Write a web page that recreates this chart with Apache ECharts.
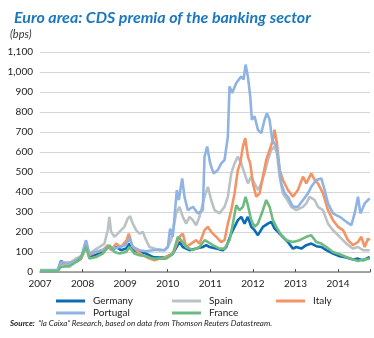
<!DOCTYPE html>
<html><head><meta charset="utf-8">
<script src="https://cdn.jsdelivr.net/npm/echarts@6/dist/echarts.min.js"></script>
<style>html,body{margin:0;padding:0;background:#fff}#c{width:374px;height:338px}</style>
</head><body><div id="c"></div>
<script>
const yearTicks = [2007, 2008, 2009, 2010, 2011, 2012, 2013, 2014];
const seriesNames = ['Germany', 'Spain', 'Italy', 'Portugal', 'France'];

const germany = [[2007.0,8],[2007.415,8],[2007.494,55],[2007.572,42],[2007.690,33],[2007.768,55],[2007.846,50],[2007.964,67],[2008.081,134],[2008.160,75],[2008.277,84],[2008.395,92],[2008.513,109],[2008.630,125],[2008.708,109],[2008.787,125],[2008.904,109],[2009.022,117],[2009.100,142],[2009.179,109],[2009.335,100],[2009.492,92],[2009.649,75],[2009.806,72],[2009.962,75],[2010.119,92],[2010.276,150],[2010.354,125],[2010.511,109],[2010.668,117],[2010.824,125],[2010.903,134],[2010.981,125],[2011.138,117],[2011.295,109],[2011.373,125],[2011.491,192],[2011.569,226],[2011.647,259],[2011.726,276],[2011.804,242],[2011.882,276],[2011.961,226],[2012.039,209],[2012.118,184],[2012.235,226],[2012.353,242],[2012.431,251],[2012.509,217],[2012.588,201],[2012.705,175],[2012.823,150],[2012.940,117],[2013.019,125],[2013.136,117],[2013.254,134],[2013.371,142],[2013.489,129],[2013.607,125],[2013.724,109],[2013.881,92],[2014.038,79],[2014.194,72],[2014.351,62],[2014.469,67],[2014.586,58],[2014.743,75]];

const spain = [[2007.0,8],[2007.415,8],[2007.494,42],[2007.690,42],[2007.846,67],[2008.003,84],[2008.081,125],[2008.160,92],[2008.277,109],[2008.395,125],[2008.513,142],[2008.591,209],[2008.630,276],[2008.669,201],[2008.748,176],[2008.826,192],[2008.904,209],[2008.983,226],[2009.061,268],[2009.116,279],[2009.179,242],[2009.257,209],[2009.335,192],[2009.414,201],[2009.492,159],[2009.571,125],[2009.688,117],[2009.806,109],[2009.923,109],[2010.002,125],[2010.080,159],[2010.197,293],[2010.276,326],[2010.354,276],[2010.433,242],[2010.511,276],[2010.589,259],[2010.668,234],[2010.746,276],[2010.864,376],[2010.942,426],[2011.020,360],[2011.099,309],[2011.216,293],[2011.334,326],[2011.412,376],[2011.491,493],[2011.569,543],[2011.647,577],[2011.726,543],[2011.804,493],[2011.882,443],[2011.961,477],[2012.039,443],[2012.118,410],[2012.196,443],[2012.274,493],[2012.353,560],[2012.431,610],[2012.509,627],[2012.564,594],[2012.627,477],[2012.705,393],[2012.784,368],[2012.901,326],[2013.019,309],[2013.176,326],[2013.254,343],[2013.332,376],[2013.450,360],[2013.528,326],[2013.646,309],[2013.763,242],[2013.881,209],[2014.038,176],[2014.194,142],[2014.351,117],[2014.469,125],[2014.586,109],[2014.743,109]];

const italy = [[2007.0,8],[2007.415,8],[2007.494,42],[2007.768,50],[2007.964,67],[2008.081,125],[2008.160,84],[2008.317,100],[2008.473,109],[2008.591,134],[2008.669,109],[2008.787,142],[2008.904,125],[2009.038,159],[2009.085,192],[2009.163,134],[2009.257,109],[2009.414,84],[2009.571,67],[2009.688,58],[2009.806,67],[2009.962,75],[2010.119,92],[2010.276,176],[2010.354,192],[2010.433,125],[2010.550,142],[2010.668,159],[2010.746,142],[2010.864,209],[2010.942,226],[2011.020,201],[2011.138,176],[2011.255,150],[2011.334,159],[2011.412,242],[2011.491,309],[2011.569,393],[2011.647,510],[2011.702,543],[2011.765,627],[2011.820,669],[2011.882,577],[2011.937,543],[2012.000,443],[2012.078,376],[2012.157,393],[2012.235,477],[2012.313,560],[2012.392,610],[2012.470,660],[2012.509,711],[2012.564,644],[2012.627,510],[2012.705,460],[2012.823,410],[2012.940,376],[2013.058,410],[2013.176,477],[2013.254,443],[2013.371,493],[2013.450,460],[2013.528,443],[2013.646,393],[2013.763,309],[2013.881,259],[2013.998,226],[2014.116,209],[2014.233,159],[2014.351,134],[2014.469,150],[2014.547,176],[2014.625,125],[2014.704,167],[2014.743,159]];

const portugal = [[2007.0,10],[2007.415,10],[2007.494,50],[2007.690,42],[2007.846,59],[2007.964,75],[2008.081,159],[2008.160,92],[2008.317,100],[2008.473,112],[2008.630,125],[2008.748,117],[2008.865,125],[2009.006,134],[2009.100,167],[2009.179,125],[2009.335,109],[2009.492,104],[2009.649,109],[2009.806,112],[2009.923,109],[2010.002,125],[2010.056,217],[2010.119,176],[2010.213,410],[2010.260,360],[2010.339,468],[2010.393,376],[2010.472,309],[2010.589,326],[2010.707,293],[2010.824,309],[2010.864,577],[2010.926,627],[2010.997,543],[2011.075,493],[2011.177,510],[2011.255,543],[2011.334,560],[2011.412,677],[2011.451,928],[2011.514,895],[2011.608,945],[2011.726,978],[2011.781,962],[2011.828,1037],[2011.882,978],[2011.937,878],[2011.976,761],[2012.039,778],[2012.118,711],[2012.196,694],[2012.274,761],[2012.329,794],[2012.392,761],[2012.455,660],[2012.549,627],[2012.611,543],[2012.666,443],[2012.745,393],[2012.823,376],[2012.940,326],[2013.058,326],[2013.176,360],[2013.293,393],[2013.371,426],[2013.489,460],[2013.607,468],[2013.685,410],[2013.763,343],[2013.881,293],[2014.038,276],[2014.194,251],[2014.312,234],[2014.390,293],[2014.469,376],[2014.524,293],[2014.625,343],[2014.704,360],[2014.743,368]];

const france = [[2007.0,5],[2007.415,5],[2007.494,25],[2007.572,28],[2007.690,28],[2007.846,50],[2007.964,75],[2008.081,125],[2008.160,67],[2008.317,75],[2008.473,92],[2008.630,134],[2008.748,100],[2008.865,92],[2009.022,100],[2009.100,125],[2009.218,92],[2009.335,84],[2009.492,79],[2009.649,67],[2009.806,67],[2009.962,67],[2010.119,89],[2010.237,176],[2010.315,159],[2010.433,125],[2010.589,109],[2010.746,125],[2010.864,159],[2010.942,150],[2011.060,134],[2011.216,117],[2011.334,117],[2011.451,159],[2011.530,242],[2011.608,334],[2011.687,309],[2011.765,326],[2011.828,376],[2011.882,334],[2011.961,259],[2012.039,226],[2012.118,242],[2012.235,309],[2012.313,360],[2012.392,326],[2012.470,259],[2012.549,226],[2012.666,184],[2012.784,159],[2012.940,150],[2013.097,159],[2013.254,176],[2013.371,184],[2013.489,150],[2013.607,142],[2013.724,125],[2013.881,100],[2014.038,89],[2014.194,75],[2014.351,62],[2014.469,55],[2014.586,62],[2014.743,67]];

const colors = {Germany:'#0b6cb5', Spain:'#b9c3c6', Italy:'#f39467', Portugal:'#8fb4e3', France:'#6dbb80'};
const dataMap = {Germany:germany, Spain:spain, Italy:italy, Portugal:portugal, France:france};

const FONT = 'Lato';
const chart = echarts.init(document.getElementById('c'), null, {renderer:'canvas'});

function legendAt(name, left, top) {
  return {
    data:[name], left:left, top:top, itemWidth:29, itemHeight:3, itemGap:0,
    icon:'rect', padding:0,
    textStyle:{fontFamily:FONT, fontSize:10, color:'#222', padding:[0,0,0,3]}
  };
}

chart.setOption({
  animation:false,
  color: seriesNames.map(n => colors[n]),
  title:{text:'Euro area: CDS premia of the banking sector', left:9, top:5,
    textStyle:{fontFamily:FONT, fontSize:16, fontWeight:'bold', fontStyle:'italic', color:'#1b78c0'}},
  graphic:[
    {type:'text', left:10, top:29, style:{text:'(bps)', font:'italic 11px Lato', fill:'#333'}},
    {type:'text', left:10, top:317, style:{
      rich:{b:{fontFamily:FONT, fontSize:8, fontWeight:'bold', fontStyle:'italic', fill:'#222'},
            n:{fontFamily:FONT, fontSize:8, fontStyle:'italic', fill:'#222'}},
      text:'{b|Source:} {n|\u201Cla Caixa\u201D Research, based on data from Thomson Reuters Datastream.}'}}
  ],
  legend:[
    legendAt('Germany', 56, 296),
    legendAt('Spain', 172, 296),
    legendAt('Italy', 276, 296),
    legendAt('Portugal', 56, 308),
    legendAt('France', 172, 308)
  ],
  grid:{left:40, right:4, top:52, bottom:66, containLabel:false},
  xAxis:{type:'value', min:yearTicks[0], max:2014.75, interval:1,
    axisLine:{lineStyle:{color:'#8a8a8a', width:1.5}},
    axisTick:{show:true, inside:true, length:3, lineStyle:{color:'#555'}},
    splitLine:{show:false},
    axisLabel:{fontFamily:FONT, fontSize:10, color:'#222', margin:7,
      formatter:v => yearTicks.includes(v) ? String(v) : ''}},
  yAxis:{type:'value', min:0, max:1100, interval:100,
    axisLine:{show:false}, axisTick:{show:false},
    splitLine:{lineStyle:{color:'#d6d6d6', width:1}},
    axisLabel:{fontFamily:FONT, fontSize:10, color:'#222', margin:7,
      formatter:v => v.toLocaleString('en-US')}},
  series: seriesNames.map(n => ({
    name:n, type:'line', data:dataMap[n], symbol:'none', smooth:false,
    lineStyle:{width:2.6, color:colors[n]}, itemStyle:{color:colors[n]}
  }))
});
</script></body></html>
